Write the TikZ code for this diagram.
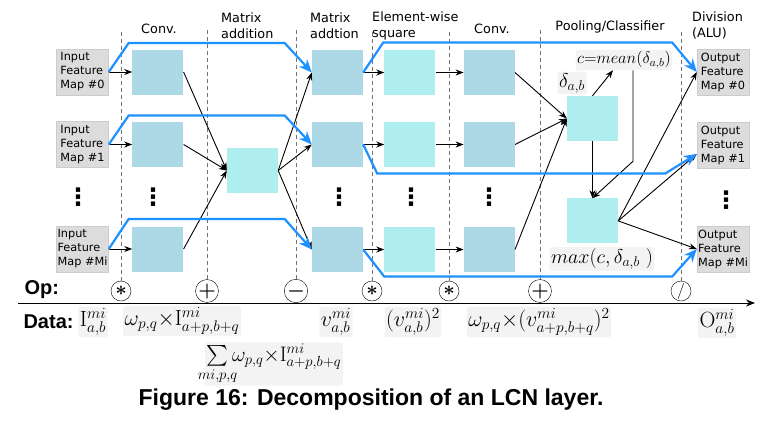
\documentclass[tikz,border=0pt]{standalone}
\usepackage{fix-cm}
\usepackage{amsmath}
\usepackage{mathtools}
\usepackage{fontspec}
\newfontfamily\boxfont{DejaVu Sans}
\newfontfamily\capfont{Liberation Sans}
\usepackage{tikz}
\usetikzlibrary{positioning, calc, arrows.meta}
\definecolor{convblue}{HTML}{ADD8E6}
\definecolor{sqcyan}{HTML}{AFEEEE}
\definecolor{flowblue}{HTML}{1E90FF}
\definecolor{mapgray}{HTML}{DCDCDC}
\definecolor{lblgray}{HTML}{F3F3F3}

\begin{document}
\begin{tikzpicture}[x=1pt, y=-1pt]
    \tikzstyle{mapbox} = [rectangle, draw=black!20, fill=mapgray, minimum width=52pt, minimum height=46pt, align=left, inner sep=1pt, font=\boxfont\fontsize{11.3}{14}\selectfont]
    \tikzstyle{convbox} = [rectangle, fill=convblue, minimum width=51pt, minimum height=45pt]
    \tikzstyle{sqbox} = [rectangle, fill=sqcyan, minimum width=51pt, minimum height=45pt]
    \tikzstyle{head} = [align=left, inner sep=0pt, font=\boxfont\fontsize{12.8}{16}\selectfont]
    \tikzstyle{lbl} = [fill=lblgray, rounded corners=2pt, inner sep=1.5pt]
    \tikzstyle{opcircle} = [circle, draw, fill=white, minimum size=20pt, inner sep=0pt, font=\fontsize{20}{20}\selectfont\boldmath]
    \tikzstyle{vdot} = [inner sep=0pt, font=\boxfont\bfseries\fontsize{24}{24}\selectfont]
    \tikzstyle{sep} = [black!55, dash pattern=on 4pt off 3pt]
    \tikzstyle{arrow} = [line width=0.9pt, ->, >={Stealth[length=8pt, width=6pt]}]
    \tikzstyle{flow} = [draw=flowblue, line width=2.2pt, -{Stealth[length=13pt, width=11pt]}]
    \tikzstyle{axis} = [thick, ->, >={Stealth[length=9pt, width=7pt]}]

    \useasboundingbox (0,0) rectangle (766,424);

    % Headers
    \node (h_conv1) [head] at (159,29) {Conv.};
    \node (h_madd) [head, anchor=west] at (221,26) {Matrix\\addition};
    \node (h_madd2) [head, anchor=west] at (310,26) {Matrix\\addtion};
    \node (h_square) [head, anchor=west] at (372,26) {Element-wise\\square};
    \node (h_conv2) [head] at (492,29) {Conv.};
    \node (h_pool) [head] at (610,27) {Pooling/Classifier};
    \node (h_div) [head, anchor=west] at (692,25) {Division\\(ALU)};

    % Op circles and stage borders
    \node (op1) [opcircle] at (121,291) {$\ast$};
    \node (op2) [opcircle] at (207,291) {$+$};
    \node (op3) [opcircle] at (296,291) {$-$};
    \node (op4) [opcircle] at (372,291) {$\ast$};
    \node (op5) [opcircle] at (449,291) {$\ast$};
    \node (op6) [opcircle] at (540,291) {$+$};
    \node (op7) [opcircle, font=\fontsize{16}{16}\selectfont] at (681,291) {$/$};
    \draw [sep] (op1.north) -- ++(0,-251);
    \draw [sep] (op2.north) -- ++(0,-251);
    \draw [sep] (op3.north) -- ++(0,-251);
    \draw [sep] (op4.north) -- ++(0,-251);
    \draw [sep] (op5.north) -- ++(0,-251);
    \draw [sep] (op6.north) -- ++(0,-251);
    \draw [sep] (op7.north) -- ++(0,-251);

    % Input maps
    \node (in0) [mapbox] at (82.5,72) {Input\\Feature\\Map \#0};
    \node (in1) [mapbox] at (82.5,144.5) {Input\\Feature\\Map \#1};
    \node (inM) [mapbox] at (82.5,249) {Input\\Feature\\Map \#Mi};

    % Conv.
    \node (c0) [convbox, right=23.5pt of in0] {};
    \node (c1) [convbox, right=23.5pt of in1] {};
    \node (cM) [convbox, right=23.5pt of inM] {};

    % Matrix addition
    \node (madd) [sqbox] at (252.5,170.5) {};

    % Matrix addtion, square, conv.
    \node (a0) [convbox] at (337.5,72.5) {};
    \node (a1) [convbox] at (337.5,144.5) {};
    \node (aM) [convbox] at (337.5,249.5) {};
    \node (s0) [sqbox, right=21pt of a0] {};
    \node (s1) [sqbox, right=21pt of a1] {};
    \node (sM) [sqbox, right=21pt of aM] {};
    \node (v0) [convbox, right=28pt of s0] {};
    \node (v1) [convbox, right=28pt of s1] {};
    \node (vM) [convbox, right=28pt of sM] {};

    % Pooling/Classifier
    \node (p1) [sqbox] at (592.5,118.5) {};
    \node (p2) [sqbox, below=57pt of p1] {};
    \node (l_mean) [lbl, font=\fontsize{16.5}{16.5}\selectfont] at (624,60) {$c{=}mean(\delta_{a,b})$};
    \node (l_delta) [lbl, font=\fontsize{20}{20}\selectfont] at (572,83) {$\delta_{a,b}$};
    \node (l_max) [lbl, font=\fontsize{20}{20}\selectfont] at (602,259) {$max(c, \delta_{a,b}\ )$};

    % Output maps
    \node (o0) [mapbox] at (723,72) {Output\\Feature\\Map \#0};
    \node (o1) [mapbox] at (723,145) {Output\\Feature\\Map \#1};
    \node (oM) [mapbox] at (723,249) {Output\\Feature\\Map \#Mi};

    % Dots
    \node (d_in) [vdot] at (78,197) {⋮};
    \node (d_c) [vdot] at (153,197) {⋮};
    \node (d_a) [vdot] at (339,197) {⋮};
    \node (d_s) [vdot] at (411,197) {⋮};
    \node (d_v) [vdot] at (489,197) {⋮};
    \node (d_o) [vdot] at (726,200) {⋮};

    % Arrows
    \draw [arrow] (in0) -- (c0);
    \draw [arrow] (in1) -- (c1);
    \draw [arrow] (inM) -- (cM);
    \draw [arrow] (c0.east) -- (madd.west);
    \draw [arrow] (c1.east) -- (madd.west);
    \draw [arrow] (cM.east) -- (madd.west);
    \draw [arrow] (madd.east) -- (a0.west);
    \draw [arrow] (madd.east) -- (a1.west);
    \draw [arrow] (madd.east) -- (aM.west);
    \draw [arrow] (a0) -- (s0);
    \draw [arrow] (a1) -- (s1);
    \draw [arrow] (aM) -- (sM);
    \draw [arrow] (s0) -- (v0);
    \draw [arrow] (s1) -- (v1);
    \draw [arrow] (sM) -- (vM);
    \draw [arrow] (v0.east) -- (p1.west);
    \draw [arrow] (v1.east) -- (p1.west);
    \draw [arrow] (vM.east) -- (p1.west);
    \draw [arrow] (p1.north) -- ($(l_mean.south)+(-11,0)$);
    \draw [arrow] (p1) -- (p2);
    \draw [arrow] ($(l_mean.south)+(9,0)$) -- ++(0,91) -- (p2.north);
    \draw [arrow] (p2.east) -- (o0.west);
    \draw [arrow] (p2.east) -- ($(o1.west)+(0,9)$);
    \draw [arrow] (p2.east) -- (oM.west);

    % Bypass paths
    \draw [flow] (in0.east) -- ++(20,-29) -- ++(156,0) -- (a0.west);
    \draw [flow] (in1.east) -- ++(20,-29) -- ++(156,0) -- (a1.west);
    \draw [flow] (inM.east) -- ++(20,-30) -- ++(156,0) -- (aM.west);
    \draw [flow] (a0.east) -- ++(20,-30) -- ++(289,0) -- (o0.west);
    \draw [flow] (a1.east) -- ++(14,29) -- ++(288,0) -- ($(o1.west)+(0,9)$);
    \draw [flow] (aM.east) -- ++(21,27) -- ++(288,0) -- (oM.west);

    % Op / Data rows
    \node (op_lbl) [anchor=west, font=\capfont\bfseries\fontsize{20}{20}\selectfont] at (21,290) {Op:};
    \draw [axis] (18,303) -- (755,303);
    \node (data_lbl) [anchor=west, font=\capfont\bfseries\fontsize{20}{20}\selectfont] at (20,322) {Data:};
    \node (t_in) [lbl, font=\fontsize{22}{22}\selectfont] at (93,322) {$\mathrm{I}^{mi}_{a,b}$};
    \node (t_conv) [lbl, font=\fontsize{22}{22}\selectfont] at (182,321) {$\omega_{p,q}{\times}\mathrm{I}^{mi}_{a+p,b+q}$};
    \node (t_sum) [lbl, font=\fontsize{21}{21}\selectfont] at (274,364) {$\sum\limits_{\mathclap{mi,p,q}}\omega_{p,q}{\times}\mathrm{I}^{mi}_{a+p,b+q}$};
    \node (t_v) [lbl, font=\fontsize{22}{22}\selectfont] at (336,322) {$v^{mi}_{a,b}$};
    \node (t_sq) [lbl, font=\fontsize{22}{22}\selectfont] at (413,322) {$(v^{mi}_{a,b})^2$};
    \node (t_conv2) [lbl, font=\fontsize{22}{22}\selectfont] at (539,322) {$\omega_{p,q}{\times}(v^{mi}_{a+p,b+q})^2$};
    \node (t_out) [lbl, font=\fontsize{22}{22}\selectfont] at (717,323) {$\mathrm{O}^{mi}_{a,b}$};

    % Caption
    \node (caption) [font=\capfont\bfseries\fontsize{23}{23}\selectfont] at (371,400) {Figure 16: Decomposition of an LCN layer.};
\end{tikzpicture}
\end{document}
